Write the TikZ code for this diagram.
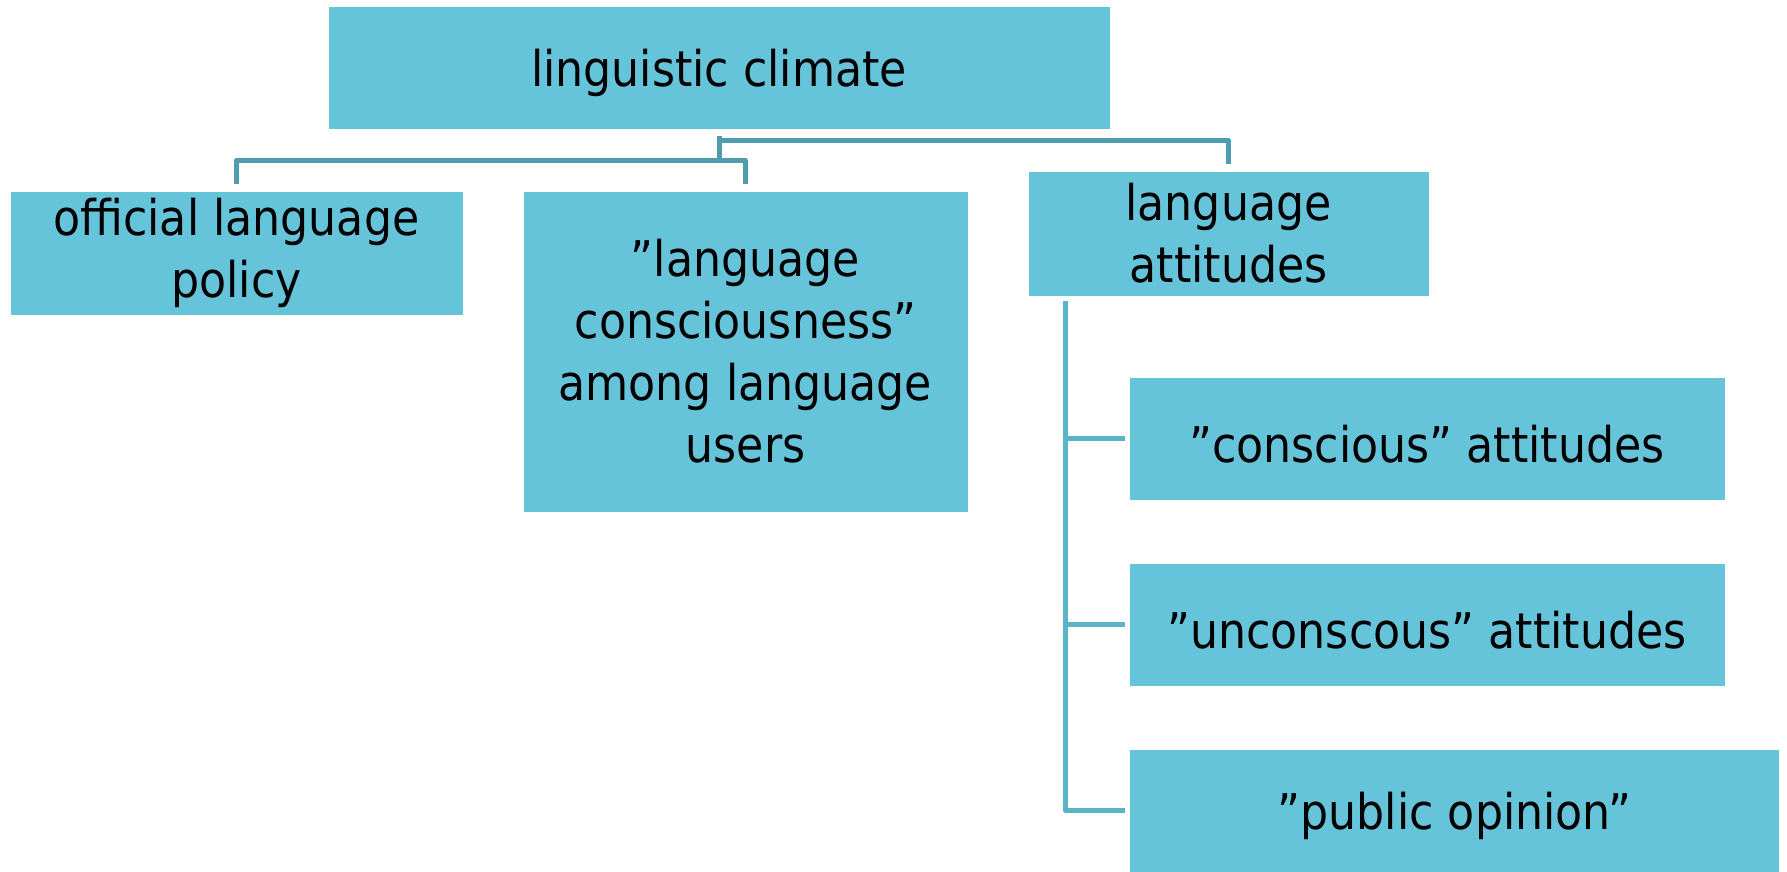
\documentclass[tikz,border=0pt]{standalone}
\usepackage{fontspec}
\setmainfont{DejaVu Sans Condensed}
\usetikzlibrary{calc}
\definecolor{boxfill}{HTML}{66C4DA}
\definecolor{connA}{HTML}{4F9CAE}
\definecolor{connB}{HTML}{5BB3C6}
\tikzset{
  bx/.style={fill=boxfill, draw=white, line width=0.4pt, inner sep=0pt, align=center,
    font=\fontsize{24.6}{31}\selectfont, execute at begin node={\rule{0pt}{24.5pt}}},
  connA/.style={draw=connA, line width=2.5pt, line join=round},
  connB/.style={draw=connB, line width=2.5pt, line join=round},
}
\begin{document}
\begin{tikzpicture}[x=0.5pt,y=-0.5pt]
\useasboundingbox (0,0) rectangle (1787,872);
\node[bx, minimum width=391pt, minimum height=61.5pt] (lc) at (719,67.5) {linguistic climate};
\node[bx, minimum width=226.5pt, minimum height=62pt] (off) at (236.5,253) {official language\\policy};
\node[bx, minimum width=222.5pt, minimum height=160.5pt] (cons) at (745.5,351.5) {”language\\consciousness”\\among language\\users};
\node[bx, minimum width=200.5pt, minimum height=62.5pt] (att) at (1228.5,233.5) {language\\attitudes};
\node[bx, minimum width=298pt, minimum height=61.5pt] (cs) at (1427,438.5) {”conscious” attitudes};
\node[bx, minimum width=298pt, minimum height=61.5pt] (uc) at (1427,624.5) {”unconscous” attitudes};
\node[bx, minimum width=325pt, minimum height=61.5pt] (pub) at (1454.5,810.5) {”public opinion”};
% top connectors
\draw[connA] ($(lc.south)+(0,7)$) -- ($(lc.south)+(0,31)$);
\draw[connA] ($(lc.south)+(0,11)$) -| ($(att.north)+(0,-7)$);
\draw[connA] ($(off.north)+(0,-7)$) |- ($(lc.south)+(0,31)$) -| ($(cons.north)+(0,-7)$);
% right tree
\coordinate (t) at ($(att.south west)+(38,5)$);
\draw[connB] (t) |- ($(pub.west)+(-4,0)$);
\draw[connB] (t |- cs.west) -- ($(cs.west)+(-4,0)$);
\draw[connB] (t |- uc.west) -- ($(uc.west)+(-4,0)$);
\end{tikzpicture}
\end{document}
